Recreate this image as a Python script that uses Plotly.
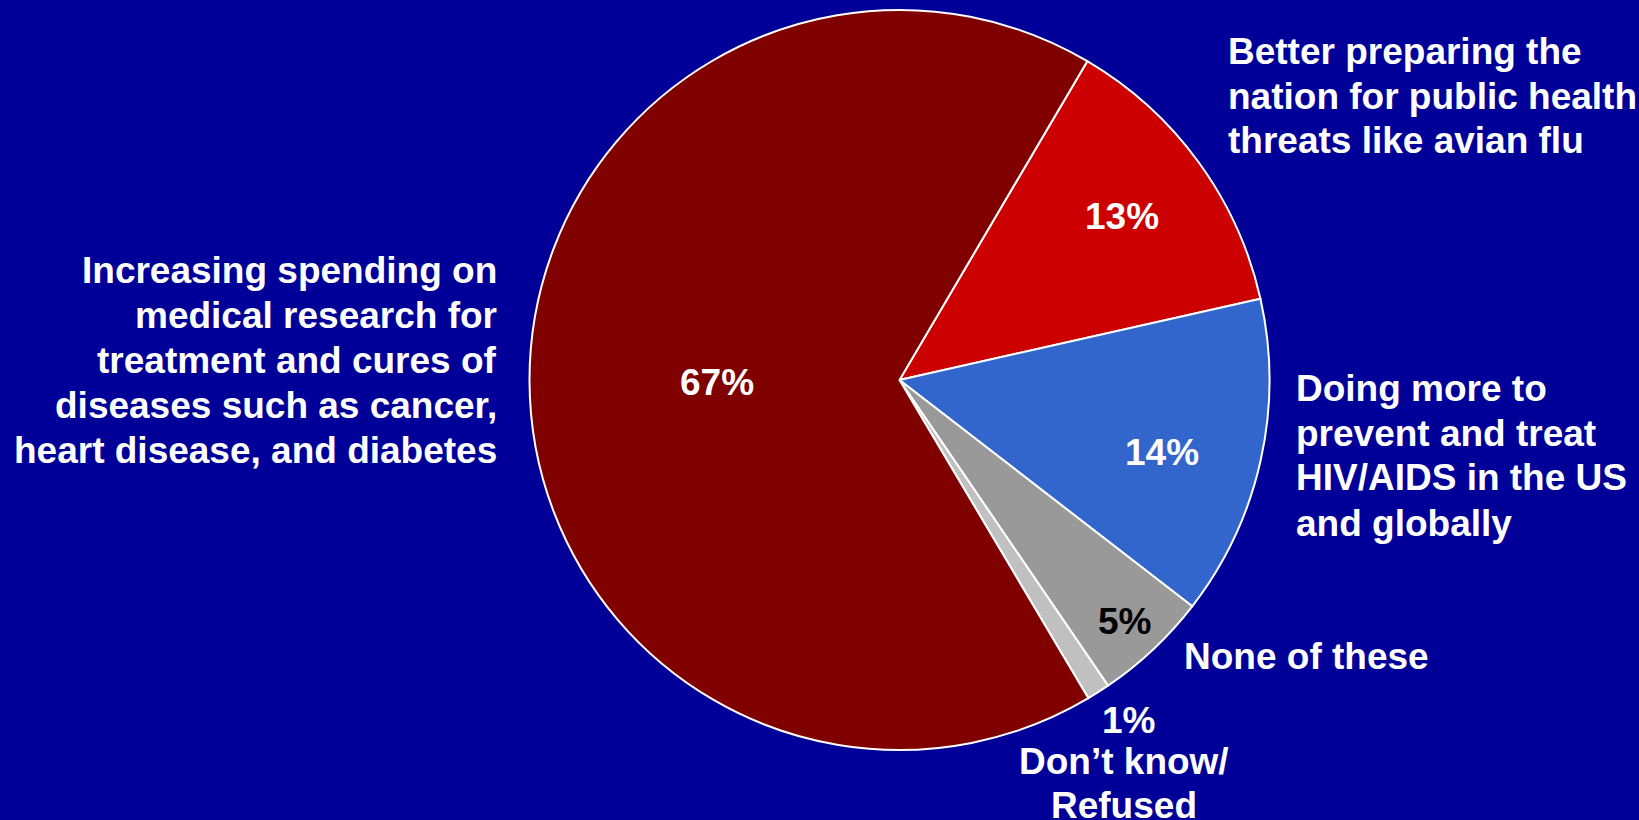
import plotly.graph_objects as go

# ---- data ----
categories = [
    "Better preparing the<br>nation for public health<br>threats like avian flu",
    "Doing more to<br>prevent and treat<br>HIV/AIDS in the US<br>and globally",
    "None of these",
    "Don\u2019t know/<br>Refused",
    "Increasing spending on<br>medical research for<br>treatment and cures of<br>diseases such as cancer,<br>heart disease, and diabetes",
]
values = [13, 14, 5, 1, 67]
colors = ["#CC0000", "#3366CC", "#999999", "#C0C0C0", "#800000"]
pct_colors = ["white", "white", "black", "white", "white"]

W, H = 1639, 820
CX, CY, R = 899.5, 380.0, 370.0
FONT = "Arial, Liberation Sans, sans-serif"
FS = 37
LINE = 45

fig = go.Figure(go.Pie(
    values=values,
    labels=[c.replace("<br>", " ") for c in categories],
    marker=dict(colors=colors, line=dict(color="white", width=2)),
    sort=False,
    direction="clockwise",
    rotation=30.5,
    textinfo="none",
    hoverinfo="skip",
    showlegend=False,
    domain=dict(x=[(CX - R) / W, (CX + R) / W], y=[1 - (CY + R) / H, 1 - (CY - R) / H]),
))

def px(x, y):
    return x / W, 1 - y / H

annotations = []

def add_lines(text, x, y_first, align, color="white", size=FS, step=LINE):
    for i, line in enumerate(text.split("<br>")):
        ax, ay = px(x, y_first + i * step)
        annotations.append(dict(
            x=ax, y=ay, xref="paper", yref="paper", text=line, showarrow=False,
            xanchor=align, yanchor="middle",
            font=dict(family=FONT, size=size, color=color, weight="bold"),
        ))

# category labels (layout positions)
label_pos = [
    (1226, 51, "left"),
    (1294, 388, "left"),
    (1182, 656, "left"),
    (1124, 761, "center"),
    (499, 270.5, "right"),
]
for cat, (x, y, al) in zip(categories, label_pos):
    add_lines(cat, x, y, al, step=44 if al == "center" else LINE)

# percentage labels
pct_pos = [(1122, 216), (1162, 452), (1124, 621), (1128, 720), (717, 382)]
for v, c, (x, y) in zip(values, pct_colors, pct_pos):
    add_lines(f"{v}%", x, y, "center", c)

fig.update_layout(
    width=W, height=H,
    margin=dict(l=0, r=0, t=0, b=0),
    paper_bgcolor="#000099",
    plot_bgcolor="#000099",
    annotations=annotations,
)

fig.write_html(
    "out.html",
    config={"displayModeBar": False},
    post_script="document.body.style.margin='0px';document.body.style.background='#000099';",
)
